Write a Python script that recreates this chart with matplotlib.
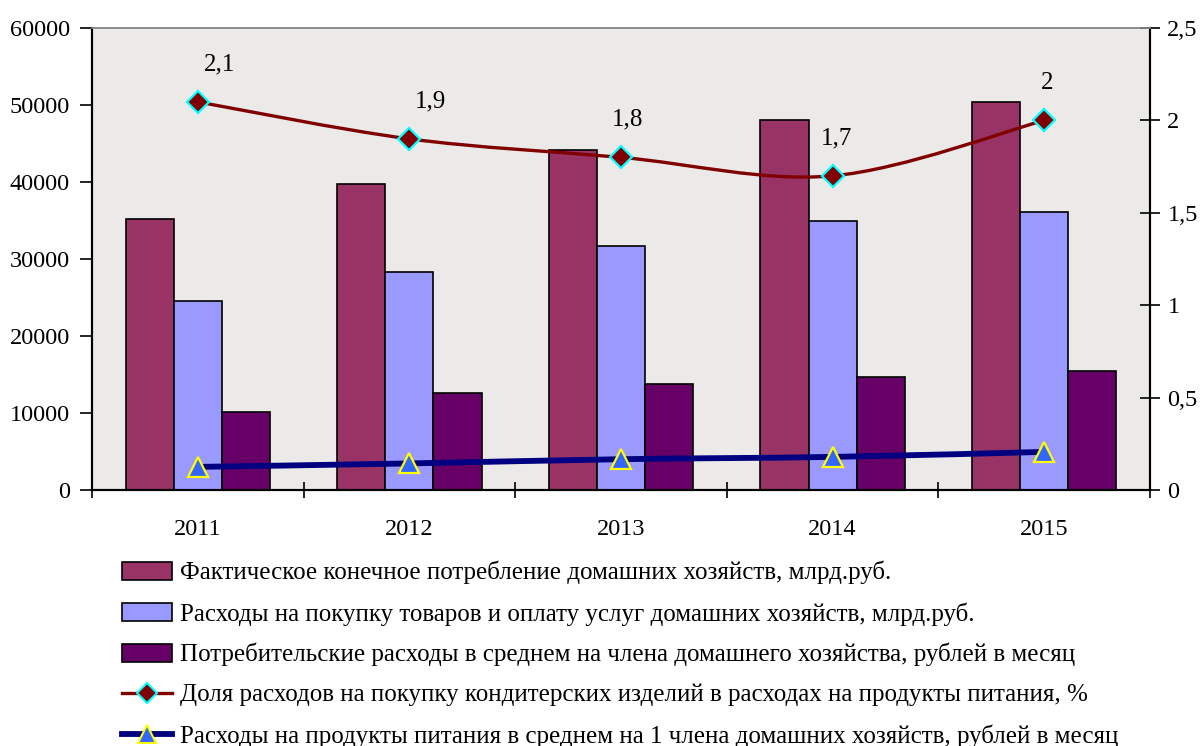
import numpy as np
import matplotlib
matplotlib.use("Agg")
import matplotlib.pyplot as plt
from matplotlib.path import Path
from matplotlib.patches import PathPatch, Patch
from matplotlib.lines import Line2D

plt.rcParams['font.family'] = ['Liberation Serif', 'DejaVu Serif']

years = ['2011', '2012', '2013', '2014', '2015']
consumption = [35200, 39800, 44200, 48100, 50400]
purchases = [24600, 28250, 31700, 34950, 36100]
per_member = [10100, 12600, 13800, 14700, 15400]
sweets_share = [2.1, 1.9, 1.8, 1.7, 2.0]
sweets_labels = ['2,1', '1,9', '1,8', '1,7', '2']
food_per_member = [3000, 3450, 4000, 4300, 4950]

names = [
    'Фактическое конечное потребление домашних хозяйств, млрд.руб.',
    'Расходы на покупку товаров и оплату услуг домашних хозяйств, млрд.руб.',
    'Потребительские расходы в среднем на члена домашнего хозяйства, рублей в месяц',
    'Доля расходов на покупку кондитерских изделий в расходах на продукты питания, %',
    'Расходы на продукты питания в среднем на 1 члена домашних хозяйств, рублей в месяц',
]


def smooth_path(xs, ys):
    # bezier segments through the points (like Excel "smoothed line")
    pts = np.column_stack([xs, ys]).astype(float)
    ext = np.vstack([pts[0], pts, pts[-1]])
    verts = [pts[0]]
    codes = [Path.MOVETO]
    for i in range(1, len(ext) - 2):
        p0, p1, p2, p3 = ext[i - 1], ext[i], ext[i + 1], ext[i + 2]
        verts += [p1 + (p2 - p0) / 6, p2 - (p3 - p1) / 6, p2]
        codes += [Path.CURVE4] * 3
    return Path(verts, codes)


fig = plt.figure(figsize=(12.03, 7.46), dpi=100)
ax = fig.add_axes([92 / 1203, 1 - 490 / 746, (1150 - 92) / 1203, (490 - 28) / 746])
ax2 = ax.twinx()

x = np.arange(len(years))
w = 0.2275
ax.set_facecolor('#EBEAE8')
ax.bar(x - w, consumption, w, color='#993366', edgecolor='black', linewidth=1.2, zorder=2)
ax.bar(x, purchases, w, color='#9999FF', edgecolor='black', linewidth=1.2, zorder=2)
ax.bar(x + w, per_member, w, color='#660066', edgecolor='black', linewidth=1.2, zorder=2)

ax.add_patch(PathPatch(smooth_path(x, food_per_member), facecolor='none',
                       edgecolor='#000080', linewidth=4.2, zorder=3))
ax.plot(x, food_per_member, linestyle='none', marker='^', markersize=15,
        markerfacecolor='#3366FF', markeredgecolor='#FFFF00', markeredgewidth=1.6, zorder=4)

ax2.add_patch(PathPatch(smooth_path(x, sweets_share), facecolor='none',
                        edgecolor='#800000', linewidth=2.4, zorder=3))
ax2.plot(x, sweets_share, linestyle='none', marker='D', markersize=11.5,
         markerfacecolor='#800000', markeredgecolor='#00FFFF', markeredgewidth=1.6, zorder=4)
label_dx = [16, 15, 5, 3, 2]
for xi, yi, lab, dx in zip(x, sweets_share, sweets_labels, label_dx):
    ax2.annotate(lab, (xi, yi), xytext=(dx, 27), textcoords='offset points',
                 ha='center', va='center', fontsize=18)

ax.set_xlim(-0.5, len(years) - 0.5)
ax.set_ylim(0, 60000)
ax2.set_ylim(0, 2.5)
ax.set_yticks(np.arange(0, 60001, 10000))
ax2.set_yticks([0, 0.5, 1, 1.5, 2, 2.5])
ax2.set_yticklabels(['0', '0,5', '1', '1,5', '2', '2,5'])

ax.set_xticks(np.arange(-0.5, len(years), 1))
ax.set_xticklabels([])
ax.set_xticks(x, minor=True)
ax.set_xticklabels(years, minor=True)
ax.tick_params(axis='x', which='major', direction='inout', length=12, width=1.2)
ax.tick_params(axis='x', which='minor', length=0, pad=21, labelsize=17.5)
ax.tick_params(axis='y', direction='out', length=9, width=1.2, pad=7, labelsize=17.5)
ax2.tick_params(axis='y', direction='inout', length=15, width=1.2, pad=5, labelsize=17.5)

for a in (ax, ax2):
    a.spines['top'].set_color('#8C8C8C')
    a.spines['top'].set_linewidth(1.2)
    for s in ('left', 'right', 'bottom'):
        a.spines[s].set_linewidth(1.5)

handles = [
    Patch(facecolor='#993366', edgecolor='black', linewidth=1.2),
    Patch(facecolor='#9999FF', edgecolor='black', linewidth=1.2),
    Patch(facecolor='#660066', edgecolor='black', linewidth=1.2),
    Line2D([], [], color='#800000', linewidth=2.4, marker='D', markersize=10,
           markerfacecolor='#800000', markeredgecolor='#00FFFF', markeredgewidth=1.5),
    Line2D([], [], color='#000080', linewidth=4.2, marker='^', markersize=13,
           markerfacecolor='#3366FF', markeredgecolor='#FFFF00', markeredgewidth=1.5),
]
fig.legend(handles, names, loc='upper left', bbox_to_anchor=(122 / 1203, 1 - 561 / 746),
           frameon=False, fontsize=18, handlelength=2.0, handleheight=0.7,
           handletextpad=0.32, labelspacing=0.7, borderpad=0, borderaxespad=0, numpoints=1)

fig.savefig('out.png', dpi=100)
